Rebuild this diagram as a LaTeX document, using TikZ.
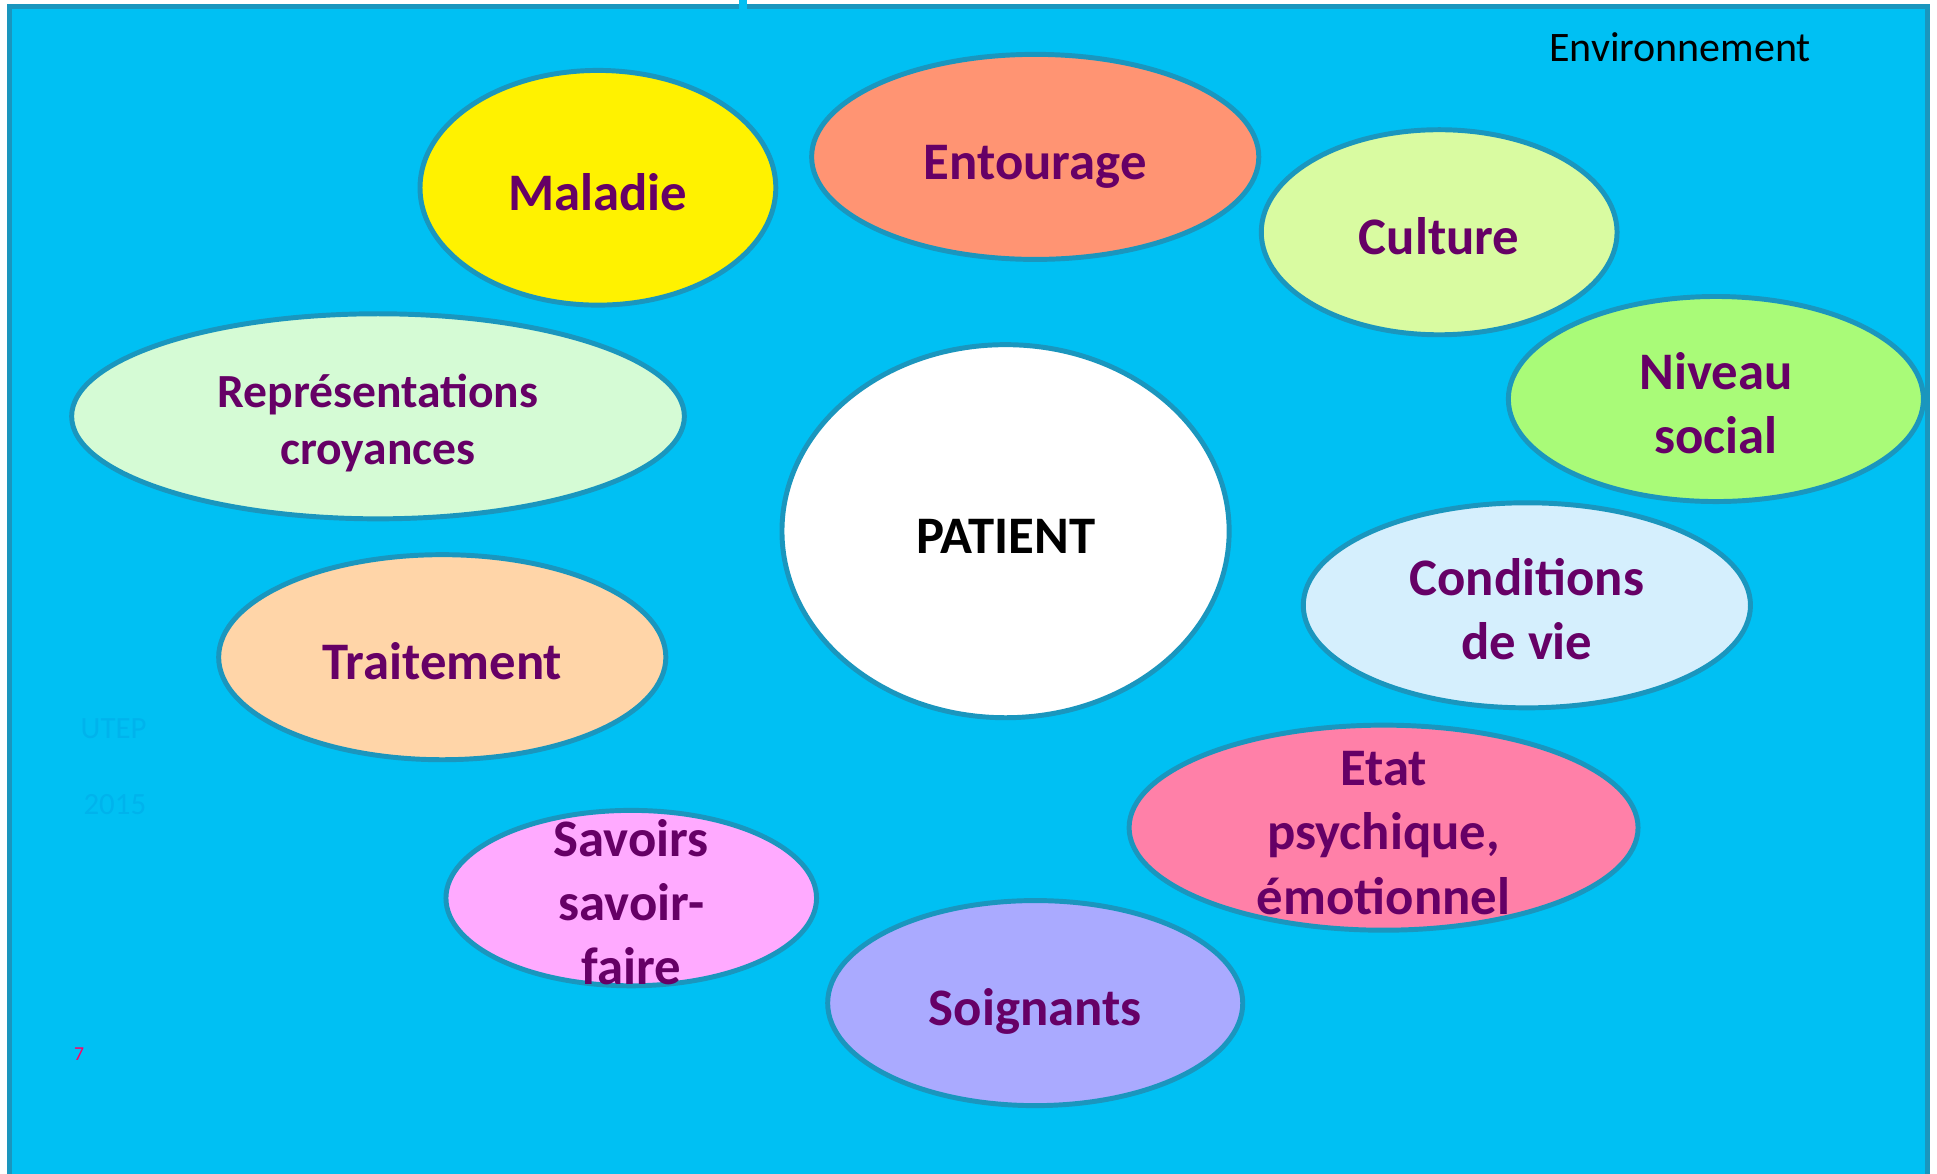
\documentclass[tikz,border=0pt]{standalone}
\usepackage{fontspec}
\setmainfont{Carlito}
\usetikzlibrary{shapes.geometric}
\definecolor{fond}{HTML}{00C0F3}
\definecolor{bord}{HTML}{1A96BE}
\definecolor{violet}{HTML}{660066}
\definecolor{filigrane}{HTML}{00B3EC}
\definecolor{rose}{HTML}{FF0066}
\tikzset{
  bulle/.style={ellipse,draw=bord,line width=4pt,inner sep=0pt,align=center,
    text height=46pt,text depth=10pt,
    text=violet,font=\fontsize{42.7}{52}\selectfont\bfseries},
  deuxlignes/.style={text height=98pt},
  troislignes/.style={text height=150pt,inner ysep=-45pt},
  marque/.style={font=\fontsize{25}{30}\selectfont,text=filigrane}
}
\begin{document}
\begin{tikzpicture}[x=1pt,y=-1pt]
        \useasboundingbox (0,0) rectangle (1568,950);
        \fill[white] (0,0) rectangle (1568,950);
        \draw[bord,line width=4pt,fill=fond] (8,5) rectangle (1560,965); %cadre
        \fill[fond] (598,0) rectangle (605,8);
        \node[font=\fontsize{34}{40}\selectfont] (env) at (1360,38) {Environnement};
        \node[marque] (utep) at (92,590) {UTEP};
        \node[marque] (annee) at (93,651) {2015};
        \node[font=\fontsize{16}{19}\selectfont,text=rose] (page) at (64,853) {7};
        \node[bulle,fill=white,text=black,minimum width=362,minimum height=302] (patient) at (814,430) {PATIENT};
        \node[bulle,fill=yellow,minimum width=288,minimum height=190] (maladie) at (484,152) {Maladie};
        \node[bulle,fill={rgb,255:red,255;green,148;blue,115},minimum width=362,minimum height=166] (entourage) at (838,127) {Entourage};
        \node[bulle,fill={rgb,255:red,217;green,251;blue,161},minimum width=288,minimum height=166] (culture) at (1165,188) {Culture};
        \node[bulle,deuxlignes,fill={rgb,255:red,169;green,251;blue,120},minimum width=336,minimum height=166] (niveau) at (1389,323) {Niveau\\social};
        \node[bulle,fill={rgb,255:red,213;green,251;blue,213},minimum width=496,minimum height=166,text height=88pt,
              font=\fontsize{38.5}{46}\selectfont\bfseries] (repres) at (306,337) {Représentations\\croyances};
        \node[bulle,fill={rgb,255:red,255;green,213;blue,168},minimum width=362,minimum height=166] (traitement) at (358,532) {Traitement};
        \node[bulle,deuxlignes,fill={rgb,255:red,213;green,239;blue,253},minimum width=362,minimum height=166] (conditions) at (1236,490) {Conditions\\de vie};
        \node[bulle,troislignes,fill={rgb,255:red,255;green,128;blue,168},minimum width=412,minimum height=166] (etat) at (1120,670) {Etat\\psychique,\\émotionnel};
        \node[bulle,troislignes,fill={rgb,255:red,255;green,170;blue,255},minimum width=300,minimum height=142] (savoirs) at (511,727) {Savoirs\\savoir-\\faire};
        \node[bulle,fill={rgb,255:red,170;green,170;blue,255},minimum width=336,minimum height=166] (soignants) at (838,812) {Soignants};
\end{tikzpicture}
\end{document}
